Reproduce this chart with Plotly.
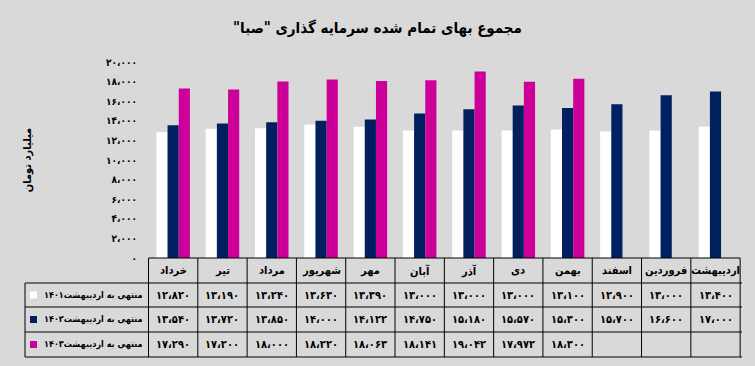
import plotly.graph_objects as go

months = ["خرداد", "تیر", "مرداد", "شهریور", "مهر", "آبان", "آذر", "دی", "بهمن", "اسفند", "فروردین", "اردیبهشت"]
series_names = ["منتهی به اردیبهشت۱۴۰۱", "منتهی به اردیبهشت۱۴۰۲", "منتهی به اردیبهشت۱۴۰۳"]
v1401 = [12820, 13190, 13240, 13630, 13390, 13000, 13000, 13000, 13100, 12900, 13000, 13400]
v1402 = [13540, 13720, 13850, 14000, 14122, 14750, 15180, 15570, 15300, 15700, 16600, 17000]
v1403 = [17290, 17200, 18000, 18220, 18063, 18141, 19042, 17972, 18300, None, None, None]
yticks = [0, 2000, 4000, 6000, 8000, 10000, 12000, 14000, 16000, 18000, 20000]
colors = ["#FFFFFF", "#002060", "#CC0099"]
title = 'مجموع بهای تمام شده سرمایه گذاری "صبا"\u200f'
ytitle = "میلیارد تومان"

FA = str.maketrans("0123456789,", "۰۱۲۳۴۵۶۷۸۹،")


def fa(n):
    if n is None:
        return ""
    if n == 0:
        return "۰"
    return f"{n:,}".translate(FA)


FONT = "DejaVu Sans Condensed"
W, H = 755, 366
L, R, T, B = 148, 13, 62, 108
ph = H - T - B


def py(p):
    return (H - B - p) / ph


def px(p):
    return (p - L) / (W - L - R)


fig = go.Figure()
all_series = [v1401, v1402, v1403]
for name, vals, col in zip(series_names, all_series, colors):
    fig.add_trace(go.Bar(x=months, y=vals, name=name, marker=dict(color=col, line=dict(width=0))))

shapes = []
ann = []
row_tops = [258, 283, 307, 332, 357]
line = dict(color="black", width=1)
shapes.append(dict(type="line", xref="x", yref="paper", x0=-0.5, x1=len(months) - 0.5, y0=py(258), y1=py(258), line=line))
for yy in row_tops[1:]:
    shapes.append(dict(type="line", xref="paper", yref="paper", x0=px(25), x1=1, y0=py(yy), y1=py(yy), line=line))
for i in range(len(months) + 1):
    shapes.append(dict(type="line", xref="x", yref="paper", x0=i - 0.5, x1=i - 0.5, y0=py(258), y1=py(357), line=line))
shapes.append(dict(type="line", xref="paper", yref="paper", x0=px(25), x1=px(25), y0=py(283), y1=py(357), line=line))

for m in months:
    ann.append(dict(x=m, xref="x", y=py(270.5), yref="paper", text=m, showarrow=False,
                    xanchor="center", yanchor="middle",
                    font=dict(family=FONT, size=11, color="black", weight="bold")))
for r, (name, vals, col) in enumerate(zip(series_names, all_series, colors)):
    yc = py((row_tops[r + 1] + row_tops[r + 2]) / 2)
    for m, v in zip(months, vals):
        ann.append(dict(x=m, xref="x", y=yc, yref="paper", text=fa(v), showarrow=False,
                        xanchor="center", yanchor="middle",
                        font=dict(family=FONT, size=11, color="black", weight="bold")))
    ann.append(dict(x=px(145), xref="paper", y=yc, yref="paper", text=name, showarrow=False,
                    xanchor="right", yanchor="middle",
                    font=dict(family=FONT, size=9, color="black", weight="bold")))
    shapes.append(dict(type="rect", xref="paper", yref="paper", x0=px(30), x1=px(37), y0=yc - 3.5 / ph, y1=yc + 3.5 / ph,
                       fillcolor=col, line=dict(width=0)))

fig.update_layout(
    width=W, height=H,
    margin=dict(l=L, r=R, t=T, b=B),
    paper_bgcolor="#D9D9D9", plot_bgcolor="#D9D9D9",
    barmode="group", bargap=0.32, bargroupgap=0,
    showlegend=False,
    title=dict(text=title, x=0.5, xanchor="center", y=1 - 28 / H, yanchor="middle",
               font=dict(family=FONT, size=15, color="black", weight="bold")),
    xaxis=dict(showticklabels=False, showgrid=False, zeroline=False, showline=False, ticks=""),
    yaxis=dict(range=[0, 20000], tickvals=yticks, ticktext=[fa(v) for v in yticks], showgrid=False,
               zeroline=False, showline=False, ticks="", ticklabelstandoff=10,
               tickfont=dict(family=FONT, size=10, color="black", weight="bold"),
               title=dict(text=ytitle, font=dict(family=FONT, size=11, color="black", weight="bold"), standoff=72)),
    shapes=shapes, annotations=ann,
)
fig.write_html("out.html")
